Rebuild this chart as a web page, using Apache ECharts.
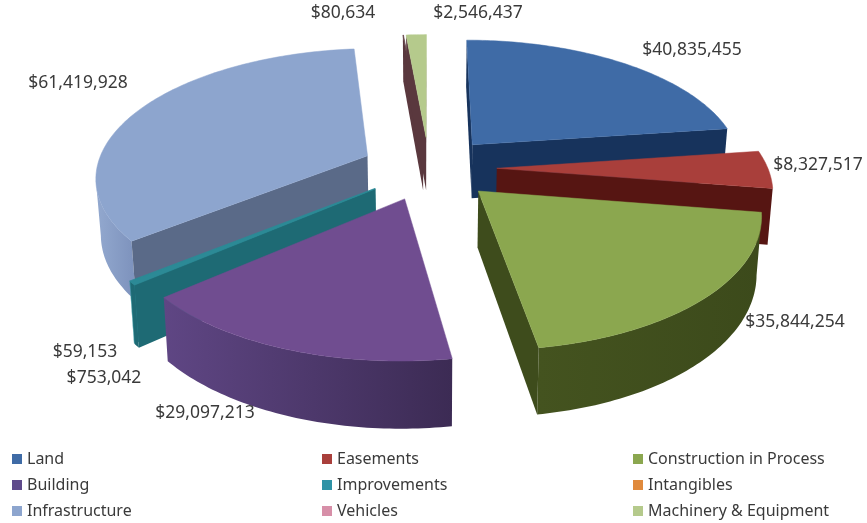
<!DOCTYPE html>
<html><head><meta charset="utf-8">
<style>html,body{margin:0;padding:0;background:#fff}#c{width:867px;height:523px}</style>
<script src="https://cdn.jsdelivr.net/npm/echarts@6/dist/echarts.min.js"></script>
</head><body><div id="c"></div>
<script>
// ---- data ----
const categories = ['Land','Easements','Construction in Process','Building','Improvements','Intangibles','Infrastructure','Vehicles','Machinery & Equipment'];
const values = [40835455,8327517,35844254,29097213,753042,59153,61419928,80634,2546437];

// ---- styles / layout ----
const topColors  = ['#3F6BA6','#A93F3B','#8BA74F','#704D90','#2C8A96','#2C8A96','#8DA5CE','#5A383E','#B5CA8C'];
const wallColors = ['#17335C','#561512','#3E4C1C','#3D2B55','#1E6A74','#2C8A96','#5A6A88','#5A383E','#5A383E'];
const outerFrom  = ['#1B3A66','#6A1E1A','#3C4A1B','#3C2B54','#1E6A74','#2C8A96','#7F94BE','#5A383E','#5A383E'];
const outerTo    = ['#1B3A66','#5A1512','#44531F','#5F4684','#1E6A74','#2C8A96','#93A9CF','#5A383E','#5A383E'];
const legendColors = ['#3F6BA6','#A93F3B','#8BA74F','#5F4A8B','#2F93A6','#E08A3C','#8DA5CE','#D78FA8','#B5CA8C'];
const labelPos = [[692,50],[818,165],[795,322],[205,413],[104,378],[85,352],[78,83],[343,13],[478,13]];
const drawOrder = [7,8,0,6,1,5,4,3,2];
const legendCols = [[0,3,6],[1,4,7],[2,5,8]];
const legendLeft = [12,322,633];
const view = {cx:429, cy:168, R:271, A:127, k:0.152, explode:0.25, H:55, taper:0.985};

const total = values.reduce((a,b)=>a+b,0);
let run = 0;
const spans = values.map(v=>{const s=run/total*360; run+=v; return [s, run/total*360];});

function project(X,Y){
  const s = 1/(1+view.k*Y);
  return {x:view.cx+view.R*X*s, y:view.cy-view.A*Y*s, s};
}
function lower(p){ return [view.cx+(p.x-view.cx)*view.taper, p.y+view.H*p.s]; }
function wall(points,fill){
  const pts=points.map(p=>[p.x,p.y]).concat(points.slice().reverse().map(lower));
  return {type:'polygon',silent:true,shape:{points:pts},style:{fill,stroke:null}};
}
function renderSlice(params,api){
  const idx=api.value(0), start=api.value(1), end=api.value(2);
  const mid=(start+end)/2*Math.PI/180;
  const ex=view.explode*Math.sin(mid), ey=view.explode*Math.cos(mid);
  const apex=project(ex,ey);
  const rim=[];
  const steps=Math.max(2,Math.ceil(end-start));
  for(let i=0;i<=steps;i++){
    const t=(start+(end-start)*i/steps)*Math.PI/180;
    rim.push(project(ex+Math.sin(t),ey+Math.cos(t)));
  }
  const kids=[];
  let first=-1,last=-1;
  for(let i=0;i<steps;i++){
    if(rim[i+1].x<rim[i].x){ if(first<0) first=i; last=i+1; }
  }
  if(first>=0){
    const a=rim[first],b=rim[last];
    const grad=new echarts.graphic.LinearGradient(a.x,0,b.x,0,
      [{offset:0,color:outerFrom[idx]},{offset:1,color:outerTo[idx]}],true);
    kids.push(wall(rim.slice(first,last+1),grad));
  }
  if(rim[0].x<apex.x) kids.push(wall([apex,rim[0]],wallColors[idx]));
  if(apex.x<rim[steps].x) kids.push(wall([rim[steps],apex],wallColors[idx]));
  kids.push({type:'polygon',silent:true,
    shape:{points:[[apex.x,apex.y]].concat(rim.map(p=>[p.x,p.y]))},
    style:{fill:topColors[idx],stroke:topColors[idx],lineWidth:0.5}});
  kids.push({type:'text',silent:true,z2:100,
    style:{text:'$'+values[idx].toLocaleString('en-US'),
      x:labelPos[idx][0],y:labelPos[idx][1],align:'center',verticalAlign:'middle',
      fill:'#3a3a3a',font:'17.5px "Noto Sans"'}});
  return {type:'group',children:kids};
}

const chart=echarts.init(document.getElementById('c'),null,{renderer:'canvas'});
chart.setOption({
  animation:false,
  backgroundColor:'#fff',
  legend:legendCols.map((col,c)=>({
    orient:'vertical',left:legendLeft[c],top:450,padding:0,
    itemWidth:10,itemHeight:10,itemGap:8,icon:'rect',
    selectedMode:false,
    textStyle:{fontFamily:'Noto Sans',fontSize:16,color:'#3a3a3a',lineHeight:18,height:18},
    data:col.map(i=>({name:categories[i],itemStyle:{color:legendColors[i]}}))
  })),
  series:categories.map((name,i)=>({
    type:'custom',name,coordinateSystem:'none',
    z:2+drawOrder.indexOf(i),
    itemStyle:{color:legendColors[i]},
    renderItem:renderSlice,
    encode:{},
    data:[[i,spans[i][0],spans[i][1]]]
  }))
});
</script></body></html>
